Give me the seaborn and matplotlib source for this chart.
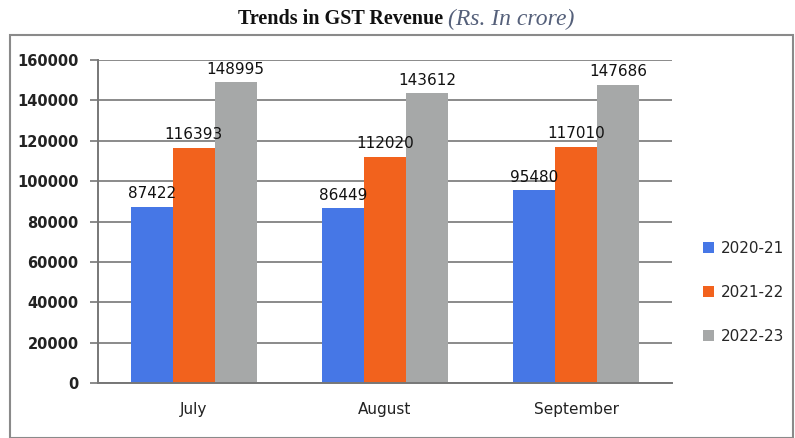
import matplotlib
matplotlib.use("Agg")
import matplotlib.pyplot as plt
import seaborn as sns
import pandas as pd
from matplotlib.patches import Rectangle

months = ["July", "August", "September"]
years = ["2020-21", "2021-22", "2022-23"]
v2020 = [87422, 86449, 95480]
v2021 = [116393, 112020, 117010]
v2022 = [148995, 143612, 147686]
yticks = [0, 20000, 40000, 60000, 80000, 100000, 120000, 140000, 160000]

df = pd.DataFrame({
    "Month": months * 3,
    "Year": [years[0]] * 3 + [years[1]] * 3 + [years[2]] * 3,
    "Revenue": v2020 + v2021 + v2022,
})

colors = ["#4677e6", "#f2621d", "#a6a8a8"]

sns.set_style("white")
plt.rcParams['font.family'] = ['DejaVu Sans']

fig = plt.figure(figsize=(7.95, 4.38), dpi=100)
ax = fig.add_axes([98/795, 1-383/438, (672-98)/795, (383-60)/438])

sns.barplot(data=df, x="Month", y="Revenue", hue="Year", order=months,
            hue_order=years, palette=colors, width=0.66, ax=ax,
            saturation=1, errorbar=None, edgecolor="none")

ax.set_ylim(0, 160000)
ax.set_yticks(yticks)
ax.set_yticklabels([str(t) for t in yticks], fontsize=10.5, fontweight="semibold", color="#222222")
ax.set_xlabel("")
ax.set_ylabel("")
ax.tick_params(axis="x", labelsize=11, colors="#222222", length=0, pad=14)
ax.tick_params(axis="y", length=6, width=1.2, color="#777777", pad=8, direction="out", left=True)
ax.yaxis.grid(True, color="#8a8a8a", linewidth=1.4)
ax.set_axisbelow(True)
for s in ["top", "right"]:
    ax.spines[s].set_visible(False)
ax.spines["left"].set_color("#777777")
ax.spines["left"].set_linewidth(1.4)
ax.spines["bottom"].set_color("#777777")
ax.spines["bottom"].set_linewidth(1.4)

for cont in ax.containers:
    labels = [f"{int(b.get_height())}" for b in cont]
    ax.bar_label(cont, labels=labels, padding=4, fontsize=11, color="#111111")

leg = ax.legend(loc="center left", bbox_to_anchor=(1.03, 0.28), frameon=False,
                fontsize=11, handlelength=0.7, handleheight=0.7, labelspacing=1.9,
                handletextpad=0.5)

# outer border
fig.patches.append(Rectangle((10/795, 0), 1 - 10/795 - 0.002, 1 - 35/438,
                             transform=fig.transFigure, fill=False,
                             edgecolor="#8a8a8a", linewidth=1.5))

fig.text(443/795, 1 - 19/438, "Trends in GST Revenue", ha="right", va="center",
         fontsize=14.5, fontweight="bold", color="#111111", family="Liberation Serif")
fig.text(448/795, 1 - 19/438, "(Rs. In crore)", ha="left", va="center",
         fontsize=17, style="italic", color="#55607a", family="Liberation Serif")

fig.savefig("out.png", dpi=100)
